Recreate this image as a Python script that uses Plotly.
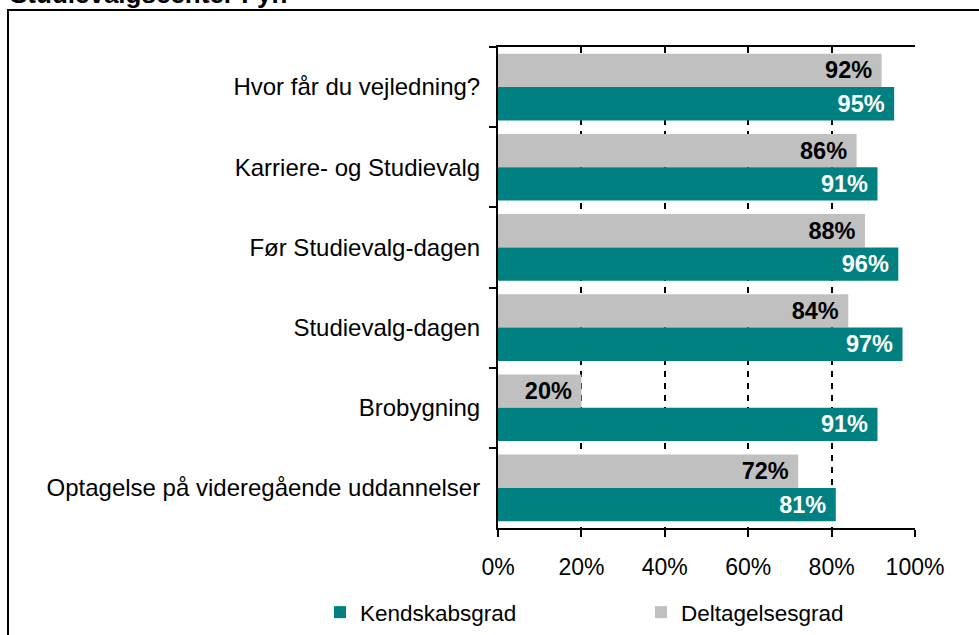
import plotly.graph_objects as go

categories = [
    "Hvor får du vejledning?",
    "Karriere- og Studievalg",
    "Før Studievalg-dagen",
    "Studievalg-dagen",
    "Brobygning",
    "Optagelse på videregående uddannelser",
]
deltagelse = [0.92, 0.86, 0.88, 0.84, 0.20, 0.72]
kendskab = [0.95, 0.91, 0.96, 0.97, 0.91, 0.81]
x_ticks = [0, 0.2, 0.4, 0.6, 0.8, 1.0]
x_ticklabels = ["0%", "20%", "40%", "60%", "80%", "100%"]

FONT = "Liberation Sans, Arial, sans-serif"

W, H = 979, 635
L, R, T, B = 498, 64, 47, 107
PW, PH = W - L - R, H - T - B


def px(xp):
    return (xp - L) / PW


def py(yp):
    return (H - B - yp) / PH


def labels(vals):
    return [f"{round(v*100)}%\u00a0" for v in vals]


fig = go.Figure()
fig.add_trace(go.Bar(
    name="Deltagelsesgrad", y=categories, x=deltagelse, orientation="h",
    marker=dict(color="#C0C0C0", line=dict(width=0)),
    text=labels(deltagelse),
    textposition="inside", insidetextanchor="end",
    textfont=dict(family=FONT, size=23.5, color="black", weight="bold"),
    legendrank=2, cliponaxis=False,
))
fig.add_trace(go.Bar(
    name="Kendskabsgrad", y=categories, x=kendskab, orientation="h",
    marker=dict(color="#008080", line=dict(width=0)),
    text=labels(kendskab),
    textposition="inside", insidetextanchor="end",
    textfont=dict(family=FONT, size=23.5, color="white", weight="bold"),
    legendrank=1, cliponaxis=False,
))

fig.update_layout(
    width=W, height=H, autosize=False,
    margin=dict(l=L, r=R, t=T, b=B, autoexpand=False),
    paper_bgcolor="white", plot_bgcolor="white",
    barmode="group", bargap=0.168, bargroupgap=0,
    font=dict(family=FONT, size=23, color="black"),
    uniformtext=dict(mode="show", minsize=20),
    legend=dict(
        orientation="h", x=px(320), xanchor="left", y=py(591), yanchor="top",
        entrywidth=276, entrywidthmode="pixels", itemwidth=30,
        font=dict(family=FONT, size=22.5, color="black"),
        bgcolor="rgba(0,0,0,0)", tracegroupgap=0,
    ),
    xaxis=dict(
        range=[0, 1], tickvals=x_ticks, ticktext=x_ticklabels,
        showgrid=True, gridcolor="black", gridwidth=2, griddash="6px,6px",
        showline=True, linecolor="black", linewidth=2, mirror=True,
        ticks="outside", ticklen=7, tickwidth=2, tickcolor="black",
        ticklabelstandoff=10, zeroline=False, automargin=False,
        tickfont=dict(family=FONT, size=23, color="black"),
    ),
    yaxis=dict(
        autorange="reversed", showline=True, linecolor="black", linewidth=2,
        ticks="outside", ticklen=7, tickwidth=2, tickcolor="black",
        tickson="boundaries", showgrid=False, ticklabelstandoff=11, automargin=False,
        tickfont=dict(family=FONT, size=24, color="black"),
    ),
    shapes=[dict(
        type="rect", xref="paper", yref="paper",
        x0=px(8), x1=px(995), y0=py(650), y1=py(10),
        line=dict(color="black", width=2), fillcolor="rgba(0,0,0,0)", layer="below",
    )],
    annotations=[dict(
        text="<b>Studievalgscenter Fyn</b>", xref="paper", yref="paper",
        x=px(8), xanchor="left", y=py(10.5), yanchor="bottom",
        showarrow=False, font=dict(family=FONT, size=26, color="black"),
    )],
)

fig.write_html(
    "out.html",
    config={"displayModeBar": False},
    post_script="document.body.style.margin='0';document.body.style.overflow='hidden';",
)
